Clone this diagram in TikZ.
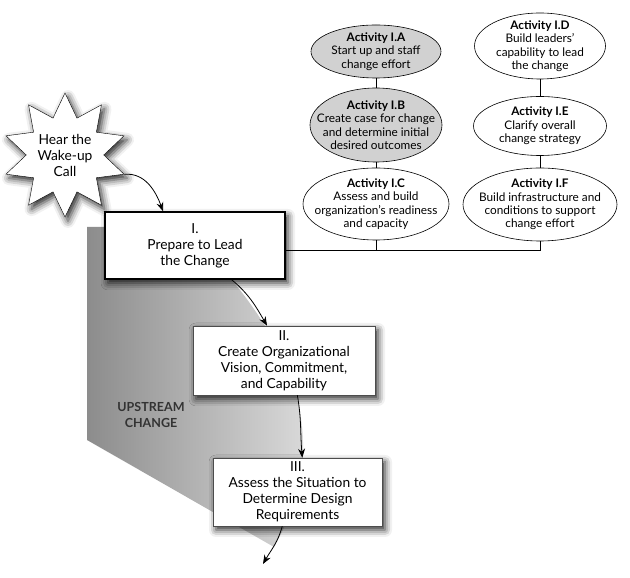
\documentclass[tikz,border=0pt]{standalone}
\usepackage{fontspec}
\setmainfont{Lato}
\usetikzlibrary{shapes.geometric,arrows.meta,shadows.blur}
\tikzset{
  softshadow/.style={blur shadow={shadow xshift=3pt, shadow yshift=-4pt, shadow blur radius=7pt, shadow opacity=85}},
  stage/.style={draw, fill=white, align=center, inner sep=0pt, font=\fontsize{13.8}{16}\selectfont, softshadow},
  activity/.style={draw, ellipse, line width=0.6pt, inner sep=0pt},
  every label/.style={align=center, font=\fontsize{11.8}{13.4}\selectfont},
  flow/.style={-{Stealth[length=9pt,width=7pt]}, line width=0.8pt},
}
\begin{document}
\begin{tikzpicture}[x=1pt,y=1pt]
    \useasboundingbox (0,0) rectangle (630,578);
    \shade[left color=black!45, middle color=black!22, right color=black!13] (87,351) -- (87,138) -- (274,31) .. controls (318,108) and (318,193) .. (232,298) -- (220,351) -- cycle;
    \node[font=\fontsize{12.5}{16}\selectfont\bfseries, text=black!80, align=center] (up) at (151,163) {UPSTREAM\\CHANGE};
    \node[star, star points=10, star point ratio=1.6, minimum size=112pt, inner sep=0pt, draw, fill=white, align=center, font=\fontsize{13.8}{16}\selectfont, softshadow] (wake) at (65,423) {Hear the\\Wake-up\\Call};
    \node[stage, line width=1.6pt, minimum width=180pt, minimum height=67pt] (prep) at (195,332.5) {I.\\Prepare to Lead\\the Change};
    \node[stage, line width=0.6pt, draw=black!70, minimum width=182pt, minimum height=69pt] (create) at (284,217.5) {II.\\Create Organizational\\Vision, Commitment,\\and Capability};
    \node[stage, line width=0.6pt, draw=black!70, minimum width=169pt, minimum height=68pt] (assess) at (297.5,86) {III.\\Assess the Situation to\\Determine Design\\Requirements};
    \coordinate (next) at (263,14);
    \node[activity, fill=black!18, minimum width=130pt, minimum height=53pt, label=center:{\textbf{Activity I.A}\\Start up and staff\\change effort}] (actA) at (376,526.5) {};
    \node[activity, fill=black!18, minimum width=132pt, minimum height=74pt, label=center:{\textbf{Activity I.B}\\Create case for change\\and determine initial\\desired outcomes}] (actB) at (376,453) {};
    \node[activity, fill=white, minimum width=146pt, minimum height=72pt, label=center:{\textbf{Activity I.C}\\Assess and build\\organization's readiness\\and capacity}] (actC) at (376,374) {};
    \node[activity, fill=white, minimum width=131pt, minimum height=66pt, label=center:{\textbf{Activity I.D}\\Build leaders'\\capability to lead\\the change}] (actD) at (540,532) {};
    \node[activity, fill=white, minimum width=133pt, minimum height=59pt, label=center:{\textbf{Activity I.E}\\Clarify overall\\change strategy}] (actE) at (540,452) {};
    \node[activity, fill=white, minimum width=154pt, minimum height=73pt, label=center:{\textbf{Activity I.F}\\Build infrastructure and\\conditions to support\\change effort}] (actF) at (540,373.5) {};
    \draw[line width=0.6pt] (actA) -- (actB);
    \draw[line width=0.6pt] (actB) -- (actC);
    \draw[line width=0.6pt] (actD) -- (actE);
    \draw[line width=0.6pt] (actE) -- (actF);
    \draw[line width=0.6pt] (actF) |- (prep.-3);
    \draw[line width=0.6pt] (actC) -- (actC.south |- prep.-3);
    \draw[flow] (wake.-18) to[out=5, in=110] (prep.133);
    \draw[flow] (prep.-43) to[out=-40, in=120] (create.116);
    \draw[flow] (create.-69) to[out=-80, in=95] (assess.82);
    \draw[flow] (assess.-114) to[out=-105, in=60] (next);
\end{tikzpicture}
\end{document}
